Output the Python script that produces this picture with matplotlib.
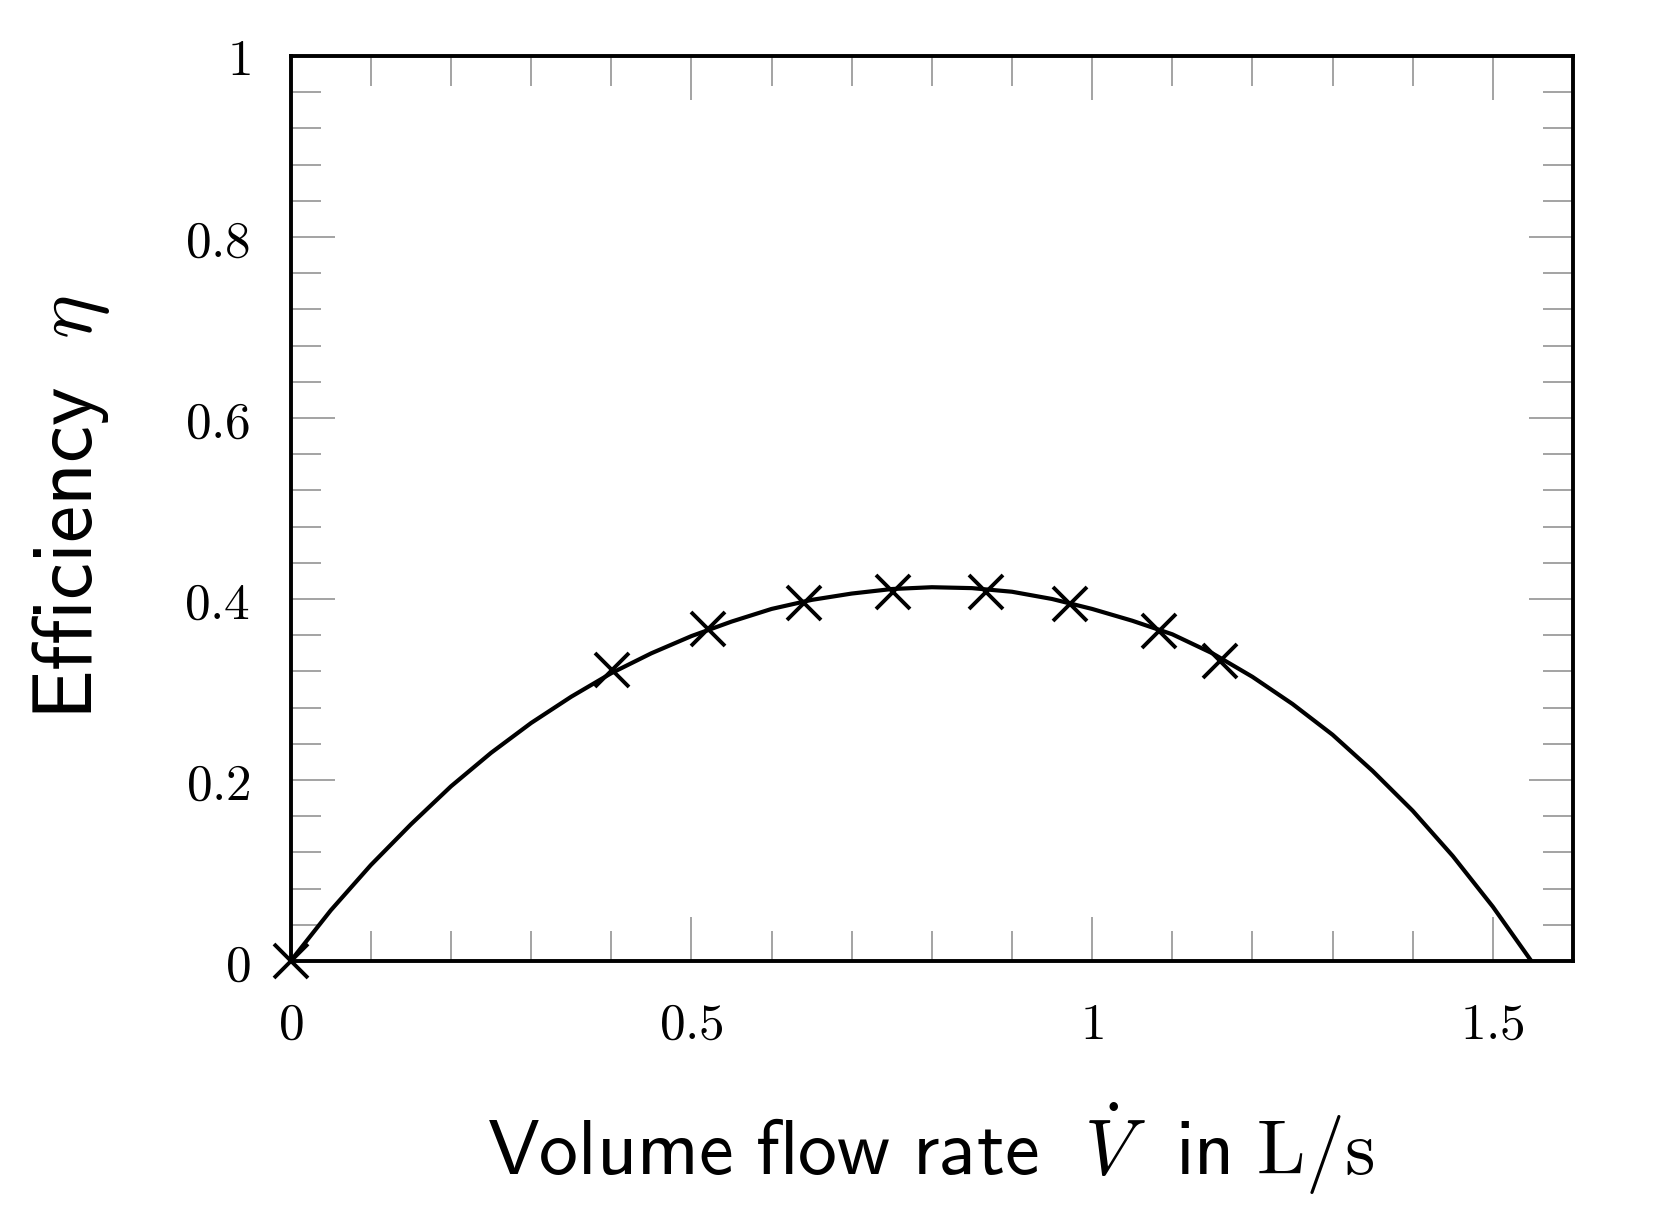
"""
Pump efficiency vs. volume flow rate: measured points plus the fitted curve.
Saves out.png.
"""
import matplotlib
matplotlib.use("Agg")
import matplotlib.pyplot as plt
from matplotlib.ticker import FixedLocator, MultipleLocator

plt.rcParams["mathtext.fontset"] = "cm"

# measured operating points (L/s, -)
FLOW_MEASURED = [0.0, 0.401, 0.521, 0.641, 0.752, 0.867, 0.973, 1.084, 1.159]
EFF_MEASURED = [0.0, 0.321, 0.367, 0.396, 0.408, 0.408, 0.394, 0.365, 0.331]

# fitted curve
FLOW_FIT = [0.0, 0.05, 0.10, 0.15, 0.20, 0.25, 0.30, 0.35, 0.40, 0.45,
            0.50, 0.55, 0.60, 0.65, 0.70, 0.75, 0.80, 0.85, 0.90, 0.95,
            1.00, 1.05, 1.10, 1.15, 1.20, 1.25, 1.30, 1.35, 1.40, 1.45,
            1.50, 1.548]
EFF_FIT = [0.0, 0.056, 0.106, 0.151, 0.193, 0.230, 0.263, 0.292, 0.318, 0.340,
           0.359, 0.375, 0.389, 0.399, 0.406, 0.411, 0.413, 0.412, 0.408, 0.400,
           0.389, 0.376, 0.361, 0.340, 0.314, 0.284, 0.250, 0.210, 0.166, 0.116,
           0.060, 0.0]

X_TICKS = [0, 0.5, 1, 1.5]
X_TICK_LABELS = ["0", "0.5", "1", "1.5"]
Y_TICKS = [0, 0.2, 0.4, 0.6, 0.8, 1]
Y_TICK_LABELS = ["0", "0.2", "0.4", "0.6", "0.8", "1"]

fig = plt.figure(figsize=(16.64, 12.30), dpi=100)
ax = fig.add_axes([0.1747, 0.2187, 0.7706, 0.7358])

ax.plot(FLOW_FIT, EFF_FIT, color="black", lw=3.0, solid_joinstyle="round")
ax.plot(FLOW_MEASURED, EFF_MEASURED, ls="none", marker="x", ms=24,
        mew=2.8, color="black", clip_on=False, zorder=5)

ax.set_xlim(0, 1.6)
ax.set_ylim(0, 1)

ax.xaxis.set_major_locator(FixedLocator(X_TICKS))
ax.yaxis.set_major_locator(FixedLocator(Y_TICKS))
ax.xaxis.set_minor_locator(MultipleLocator(0.1))
ax.yaxis.set_minor_locator(MultipleLocator(0.04))
ax.set_xticklabels([f"${t}$" for t in X_TICK_LABELS])
ax.set_yticklabels([f"${t}$" for t in Y_TICK_LABELS])

ax.tick_params(which="both", direction="in", top=True, right=True,
               color="#8a8a8a", width=1.1, labelsize=37)
ax.tick_params(which="major", length=32)
ax.tick_params(which="minor", length=21.5)
ax.tick_params(axis="x", which="major", pad=28)
ax.tick_params(axis="y", which="major", pad=29)

for side in ax.spines.values():
    side.set_linewidth(2.8)
    side.set_color("black")

fig.text(931 / 1664, 1 - 1175 / 1230,
         r"$\mathsf{Volume\ flow\ rate}\ \ \dot{V}\ \ \mathsf{in}\ \mathrm{L/s}$",
         ha="center", va="baseline", fontsize=56)
fig.text(71 / 1664, 1 - 508 / 1230, r"$\mathsf{Efficiency}\ \ \eta$",
         ha="center", va="center", rotation=90, fontsize=60)

fig.savefig("out.png", dpi=100)
